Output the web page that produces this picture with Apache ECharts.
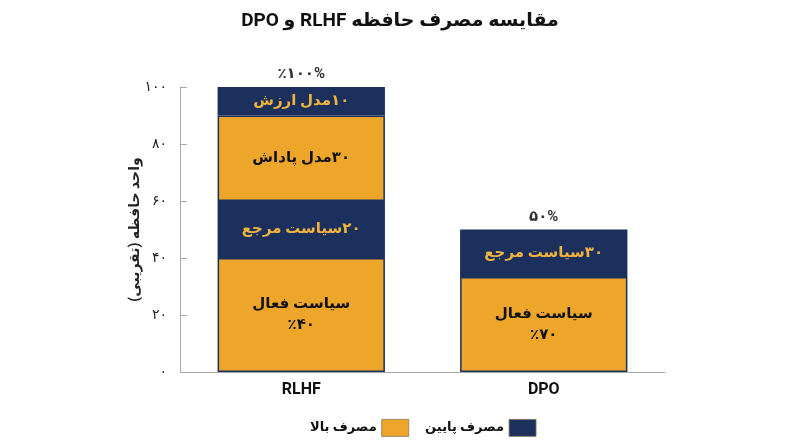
<!DOCTYPE html>
<html dir="rtl">
<head>
<meta charset="utf-8">
<script src="https://cdn.jsdelivr.net/npm/echarts@6/dist/echarts.min.js"></script>
<style>html,body{margin:0;padding:0;background:#fff;}#c{width:800px;height:447px;}</style>
</head>
<body>
<div id="c"></div>
<script>
var categories = ['RLHF', 'DPO'];
var activePolicy = [40, 33.3];
var refPolicy = [20, 16.7];
var rewardModel = [30, null];
var valueModel = [10, null];
var totals = [100, 50];

var activeLabels = ['سیاست فعال\n٪۴۰', 'سیاست فعال\n٪۷۰'];
var refLabels = ['۲۰سیاست مرجع', '۳۰سیاست مرجع'];
var rewardLabels = ['۳۰مدل پاداش', ''];
var valueLabels = ['۱۰مدل ارزش', ''];
var totalLabels = ['٪۱۰۰%', '۵۰%'];
var yTickLabels = {0: '۰', 20: '۲۰', 40: '۴۰', 60: '۶۰', 80: '۸۰', 100: '۱۰۰'};

var HIGH = 'مصرف بالا';
var LOW = 'مصرف پایین';
var NAVY = '#1b305c';
var GOLD = '#eda62a';
var GOLDTXT = '#f2b43c';
var FONT = "Roboto, 'DejaVu Sans', sans-serif";

function seg(name, color, values, labels, txtColor, size) {
  return {
    name: name, type: 'bar', stack: 'mem', barWidth: '69%',
    itemStyle: { color: color, borderColor: NAVY, borderWidth: 1.5 },
    data: values.map(function (v, i) {
      return { value: v, label: { formatter: labels[i] } };
    }),
    label: { show: true, position: 'inside', color: txtColor, fontSize: size, fontWeight: 'bold', fontFamily: FONT, lineHeight: 21 },
    emphasis: { disabled: true }
  };
}

var chart = echarts.init(document.getElementById('c'));
chart.setOption({
  animation: false,
  title: { text: 'مقایسه مصرف حافظه RLHF و DPO', left: 'center', top: 7,
    textStyle: { fontSize: 19, fontWeight: 'bold', color: '#111', fontFamily: FONT } },
  legend: { data: [HIGH, LOW], left: 305, top: 414, align: 'right', icon: 'rect', itemWidth: 27, itemHeight: 17, itemGap: 16,
    itemStyle: { borderWidth: 0.8, borderColor: '#8a7a55' },
    textStyle: { fontSize: 13, fontWeight: 'bold', color: '#111', fontFamily: FONT } },
  grid: { left: 180, right: 135, top: 87, bottom: 75 },
  xAxis: { type: 'category', data: categories,
    axisLine: { lineStyle: { color: '#aaa' } }, axisTick: { show: false },
    axisLabel: { fontSize: 16, fontWeight: 'bold', color: '#111', margin: 10, fontFamily: FONT } },
  yAxis: { type: 'value', min: 0, max: 100, interval: 20,
    name: 'واحد حافظه (تقریبی)', nameLocation: 'middle', nameRotate: 90, nameGap: 38, nameMoveOverlap: false,
    nameTextStyle: { fontSize: 14, fontWeight: 'bold', color: '#222', fontFamily: FONT },
    axisLine: { show: true, lineStyle: { color: '#aaa' } },
    axisTick: { show: true, inside: true, length: 7, lineStyle: { color: '#aaa' } },
    splitLine: { show: false },
    axisLabel: { fontSize: 14, color: '#222', margin: 13, fontFamily: FONT,
      formatter: function (v) { return yTickLabels[v]; } } },
  series: [
    seg(HIGH, GOLD, activePolicy, activeLabels, '#111', 15),
    seg(LOW, NAVY, refPolicy, refLabels, GOLDTXT, 15),
    seg(HIGH, GOLD, rewardModel, rewardLabels, '#111', 15),
    seg(LOW, NAVY, valueModel, valueLabels, GOLDTXT, 15),
    { name: 'total', type: 'scatter', symbolSize: 0, data: totals.map(function (v, i) {
        return { value: v, label: { formatter: totalLabels[i] } };
      }),
      label: { show: true, position: 'top', distance: 5, color: '#000', fontSize: 15, fontWeight: 'bold', fontFamily: FONT },
      emphasis: { disabled: true }, z: 5 }
  ]
});
</script>
</body>
</html>
